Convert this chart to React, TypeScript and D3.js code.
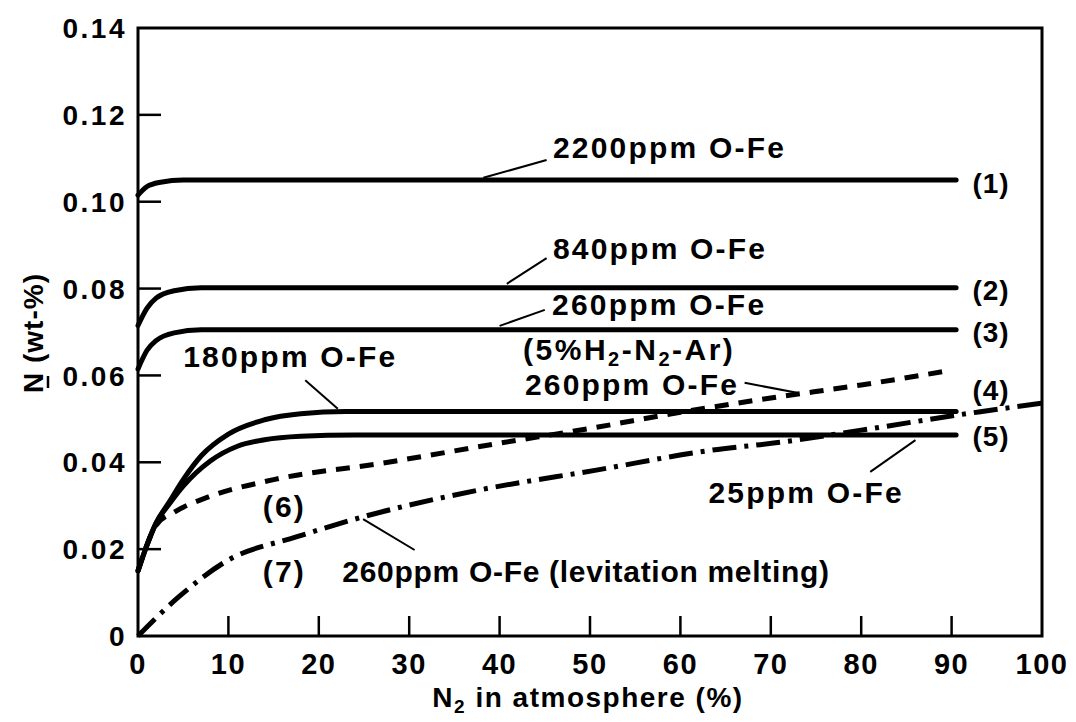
import React from "react";
import * as d3 from "d3";

// ---------- data (x: N2 in atmosphere %, y: N wt-%) ----------
const xTicks = [0, 10, 20, 30, 40, 50, 60, 70, 80, 90, 100];
const yTicks = [0, 0.02, 0.04, 0.06, 0.08, 0.1, 0.12, 0.14];
const yTickLabels = ["0", "0.02", "0.04", "0.06", "0.08", "0.10", "0.12", "0.14"];

const curve1: [number, number][] = [[0, 0.1015], [1, 0.1035], [2.5, 0.1045], [5, 0.105], [90.5, 0.105]];
const curve2: [number, number][] = [[0, 0.0715], [1, 0.0755], [2, 0.0778], [4, 0.0795], [7, 0.0802], [90.5, 0.0802]];
const curve3: [number, number][] = [[0, 0.0615], [1, 0.0658], [2, 0.068], [4, 0.0698], [7, 0.0705], [90.5, 0.0705]];
const curve4: [number, number][] = [[0, 0.015], [1, 0.021], [2, 0.026], [3.5, 0.031], [5, 0.036], [7, 0.0415], [10, 0.0465], [14, 0.0498], [18, 0.0512], [23, 0.0517], [90.5, 0.0517]];
const curve5: [number, number][] = [[0, 0.015], [1, 0.021], [2, 0.026], [3.5, 0.0305], [5, 0.0345], [8, 0.0403], [11, 0.0437], [14, 0.0452], [18, 0.046], [24, 0.0463], [90.5, 0.0463]];
const curve6: [number, number][] = [[0, 0.015], [1, 0.021], [2, 0.0255], [4, 0.0285], [7.5, 0.0318], [15, 0.036], [27, 0.0398], [40, 0.0444], [50, 0.0478], [60, 0.0515], [70, 0.0548], [80, 0.0578], [90, 0.0612]];
const curve7: [number, number][] = [[0, 0], [4.5, 0.009], [10, 0.0175], [17.5, 0.0228], [25, 0.0275], [37.7, 0.0336], [50.7, 0.0382], [63.5, 0.0428], [71, 0.0446], [80, 0.0474], [93, 0.0516], [100, 0.0536]];

const curveNumbers = ["(1)", "(2)", "(3)", "(4)", "(5)"];
const curveNumberY = [0.102, 0.0774, 0.0677, 0.0543, 0.0437];

// annotations: text position and leader line, in data units
const labelDefs = [
  { text: "2200ppm O-Fe", x: 45.9, y: 0.1101, sp: 2.2, lead: [45.2, 0.1096, 38.2, 0.1055] },
  { text: "840ppm O-Fe", x: 45.9, y: 0.0868, sp: 2.2, lead: [45.2, 0.087, 40.8, 0.0811] },
  { text: "260ppm O-Fe", x: 45.8, y: 0.0739, sp: 2.2, lead: [45.0, 0.0751, 40.0, 0.0714] },
  { text: "260ppm O-Fe", x: 42.8, y: 0.0555, sp: 2.2, lead: [67.1, 0.0583, 72.9, 0.056] },
  { text: "180ppm O-Fe", x: 5.0, y: 0.0619, sp: 2.2, lead: [18.5, 0.0589, 22.1, 0.0523] },
  { text: "25ppm O-Fe", x: 63.1, y: 0.0306, sp: 2.2, lead: [81.0, 0.0378, 86.0, 0.0451] },
  { text: "260ppm O-Fe (levitation melting)", x: 22.6, y: 0.0124, sp: 0.7, lead: [24.9, 0.0269, 30.6, 0.0198] },
  { text: "(6)", x: 13.8, y: 0.0274, sp: 2.2, lead: null },
  { text: "(7)", x: 13.8, y: 0.0124, sp: 2.2, lead: null },
];

const W = 1076;
const H = 722;
const FONT = "'Liberation Sans', Arial, Helvetica, sans-serif";

export default function App() {
  const x = d3.scaleLinear().domain([0, 100]).range([138, 1042]);
  const y = d3.scaleLinear().domain([0, 0.14]).range([636, 28]);
  const line = d3
    .line<[number, number]>()
    .x((d) => x(d[0]))
    .y((d) => y(d[1]))
    .curve(d3.curveMonotoneX);

  const solid = [curve1, curve2, curve3, curve4, curve5];
  const textStyle: React.CSSProperties = { fontFamily: FONT, fontWeight: 700 };

  return (
    <svg width={W} height={H} style={{ position: "absolute", left: 0, top: 0, background: "#fff" }}>
      <rect x={0} y={0} width={W} height={H} fill="#fff" />
      {/* frame */}
      <rect x={x(0)} y={y(0.14)} width={x(100) - x(0)} height={y(0) - y(0.14)} fill="none" stroke="#000" strokeWidth={3} />
      {/* x ticks */}
      {xTicks.slice(1, -1).map((t) => (
        <line key={"xt" + t} x1={x(t)} x2={x(t)} y1={y(0)} y2={y(0) - 20} stroke="#000" strokeWidth={2.5} />
      ))}
      {xTicks.map((t) => (
        <text key={"xl" + t} x={x(t)} y={674} textAnchor="middle" fontSize={29} letterSpacing={1.5} style={textStyle}>
          {t}
        </text>
      ))}
      {/* y ticks */}
      {yTicks.slice(1, -1).map((t) => (
        <line key={"yt" + t} x1={x(0)} x2={x(0) + 23} y1={y(t)} y2={y(t)} stroke="#000" strokeWidth={2.5} />
      ))}
      {yTicks.map((t, i) => (
        <text key={"yl" + t} x={127} y={y(t)} dy="0.36em" textAnchor="end" fontSize={28} letterSpacing={2.5} style={textStyle}>
          {yTickLabels[i]}
        </text>
      ))}
      {/* axis titles */}
      <text x={(x(0) + x(100)) / 2 - 2} y={707} textAnchor="middle" fontSize={28} letterSpacing={1.5} style={textStyle}>
        N<tspan fontSize={19} dy={6}>2</tspan>
        <tspan dy={-6}> in atmosphere (%)</tspan>
      </text>
      <g transform="translate(43,331) rotate(-90)">
        <text x={-62} y={0} fontSize={28} letterSpacing={1} style={textStyle}>
          N (wt-%)
        </text>
        <line x1={-57} x2={-45} y1={5} y2={5} stroke="#000" strokeWidth={2.5} />
      </g>
      {/* curves */}
      {solid.map((c, i) => (
        <path key={"c" + i} d={line(c) || ""} fill="none" stroke="#000" strokeWidth={5} strokeLinecap="round" />
      ))}
      <path d={line(curve6) || ""} fill="none" stroke="#000" strokeWidth={5} strokeDasharray="14 10" />
      <path d={line(curve7) || ""} fill="none" stroke="#000" strokeWidth={5} strokeDasharray="24 8 4 8" />
      {/* curve numbers */}
      {curveNumbers.map((n, i) => (
        <text key={n} x={x(92.3)} y={y(curveNumberY[i])} fontSize={28} letterSpacing={1} style={textStyle}>
          {n}
        </text>
      ))}
      {/* annotations */}
      {labelDefs.map((l, i) => (
        <g key={"lab" + i}>
          <text x={x(l.x)} y={y(l.y)} fontSize={30} letterSpacing={l.sp} style={textStyle}>
            {l.text}
          </text>
          {l.lead && (
            <line x1={x(l.lead[0])} y1={y(l.lead[1])} x2={x(l.lead[2])} y2={y(l.lead[3])} stroke="#000" strokeWidth={2} />
          )}
        </g>
      ))}
      <text x={x(42.6)} y={y(0.0636)} fontSize={30} letterSpacing={2.5} style={textStyle}>
        (5%H<tspan fontSize={20} dy={6}>2</tspan>
        <tspan dy={-6}>-N</tspan>
        <tspan fontSize={20} dy={6}>2</tspan>
        <tspan dy={-6}>-Ar)</tspan>
      </text>
    </svg>
  );
}
